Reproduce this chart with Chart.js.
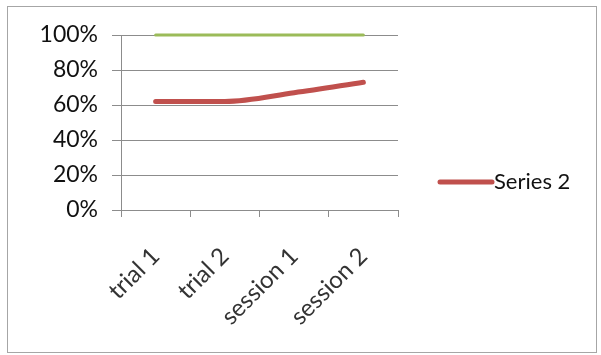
<!DOCTYPE html>
<html>
<head>
<meta charset="utf-8">
<script src="https://cdn.jsdelivr.net/npm/chart.js@4/dist/chart.umd.min.js"></script>
<style>
  html, body { margin: 0; padding: 0; background: #fff; }
  #wrap { position: relative; width: 601px; height: 355px; }
  #frame { position: absolute; left: 7px; top: 6px; width: 590px; height: 347px; border: 1px solid #a6a6a6; box-sizing: border-box; }
  #c { position: absolute; left: 0; top: 0; }
</style>
</head>
<body>
<div id="wrap">
  <div id="frame"></div>
  <canvas id="c" width="601" height="355"></canvas>
</div>
<script>
const categories = ["trial 1", "trial 2", "session 1", "session 2"];
const series1 = [1.00, 1.00, 1.00, 1.00];
const series2 = [0.62, 0.62, 0.67, 0.73];
const yTicks = [0, 0.2, 0.4, 0.6, 0.8, 1.0];
const legendSeries = ["Series 2"];

const FONT = "Lato";
const GRID = "#8c8c8c";

const sideLegend = {
  id: "sideLegend",
  afterDraw(chart) {
    const ctx = chart.ctx;
    chart.data.datasets.forEach((ds) => {
      if (!legendSeries.includes(ds.label)) return;
      const y = 182;
      const x0 = 440, x1 = 492;
      ctx.save();
      ctx.strokeStyle = ds.borderColor;
      ctx.lineWidth = ds.borderWidth;
      ctx.lineCap = "round";
      ctx.beginPath();
      ctx.moveTo(x0, y);
      ctx.lineTo(x1, y);
      ctx.stroke();
      ctx.fillStyle = "#111";
      ctx.font = "22px " + FONT;
      ctx.textBaseline = "middle";
      ctx.textAlign = "left";
      ctx.fillText(ds.label, x1 + 2, y);
      ctx.restore();
    });
  }
};

new Chart(document.getElementById("c"), {
  type: "line",
  data: {
    labels: categories,
    datasets: [
      {
        label: "Series 1",
        data: series1,
        borderColor: "#9bbb59",
        backgroundColor: "#9bbb59",
        borderWidth: 3,
        pointRadius: 0,
        clip: 10,
        borderCapStyle: "round"
      },
      {
        label: "Series 2",
        data: series2,
        borderColor: "#c0504d",
        backgroundColor: "#c0504d",
        borderWidth: 5,
        pointRadius: 0,
        clip: 10,
        cubicInterpolationMode: "monotone",
        borderCapStyle: "round"
      }
    ]
  },
  options: {
    responsive: false,
    animation: false,
    devicePixelRatio: 1,
    layout: { padding: { top: 35, left: 0, bottom: 30, right: 203 } },
    plugins: {
      tooltip: { enabled: false },
      legend: { display: false }
    },
    scales: {
      x: {
        offset: true,
        grid: { offset: true, drawOnChartArea: false, drawTicks: true, tickLength: 7, color: GRID },
        border: { color: GRID, width: 1 },
        ticks: {
          font: { family: FONT, size: 24 },
          color: "#333",
          minRotation: 45,
          maxRotation: 45,
          padding: 25
        },
        afterFit: (s) => { s.height = 355 - 30 - 210; }
      },
      y: {
        min: 0,
        max: 1,
        afterBuildTicks: (s) => { s.ticks = yTicks.map(v => ({ value: v })); },
        afterFit: (s) => { s.width = 121; },
        grid: { color: GRID, tickLength: 9, drawTicks: true },
        border: { color: GRID, width: 1 },
        ticks: {
          font: { family: FONT, size: 23 },
          color: "#111",
          padding: 14,
          callback: (v) => Math.round(v * 100) + "%"
        }
      }
    }
  },
  plugins: [sideLegend]
});
</script>
</body>
</html>
